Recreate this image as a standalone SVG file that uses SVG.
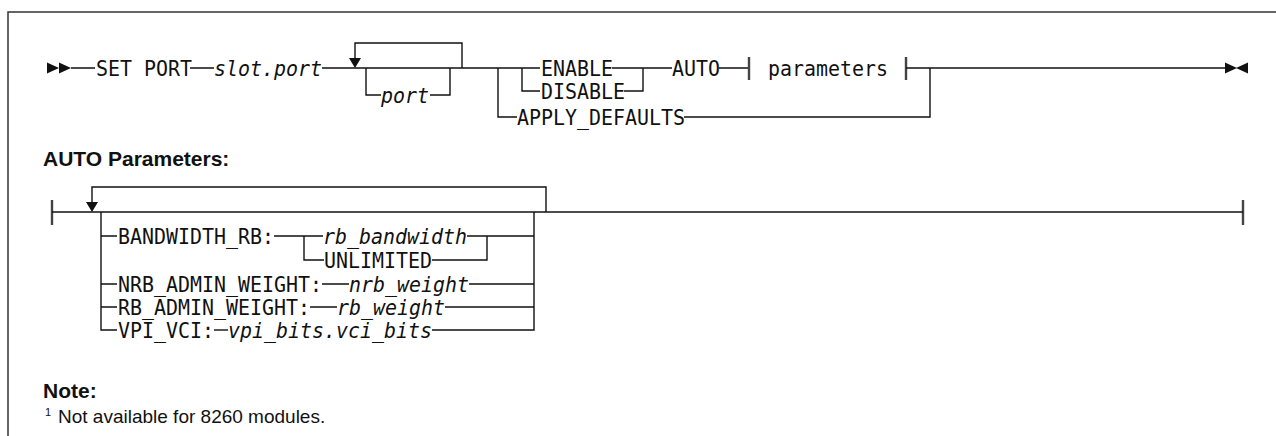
<svg xmlns="http://www.w3.org/2000/svg" width="1276" height="436" viewBox="0 0 1276 436">
<style>
.m{font-family:"DejaVu Sans Mono","Liberation Mono",monospace;font-size:21px;fill:#111}
.i{font-style:italic}
.h{font-family:"Liberation Sans",Arial,sans-serif;font-weight:bold;font-size:21px;fill:#111}
.n{font-family:"Liberation Sans",Arial,sans-serif;font-size:19px;fill:#111}
.s{font-family:"Liberation Sans",Arial,sans-serif;font-size:11px;fill:#111}
.l{fill:none;stroke:#111;stroke-width:1.4}
.t{fill:none;stroke:#444;stroke-width:2.4}
.f{fill:none;stroke:#333;stroke-width:1.5}
.a{fill:#111}
</style>
<path class="f" d="M8,436 V12 H1276"/>
<g id="connectors">
  <polygon class="a" points="47,62.5 59,68 47,73.5"/>
  <polygon class="a" points="59,62.5 71,68 59,73.5"/>
  <path class="l" d="M71,68 H95 M190,68 H214 M322,68 H540"/>
  <path class="l" d="M462,68 V43 H355 V59"/>
  <polygon class="a" points="349,58 361,58 355,68"/>
  <path class="l" d="M366,68 V95 H381 M430,95 H450 V68"/>
  <path class="l" d="M522,68 V91 H540 M612,68 H643 M624,91 H643 V68 M643,68 H672 M719,68 H749"/>
  <path class="l" d="M498,68 V117 H517 M684,117 H930 V68"/>
  <path class="t" d="M749,57 V80 M906,57 V80"/>
  <path class="l" d="M906,68 H1226"/>
  <polygon class="a" points="1225,62.5 1237,68 1225,73.5"/>
  <polygon class="a" points="1248,62.5 1236,68 1248,73.5"/>
  <path class="t" d="M52,200 V225 M1243,200 V225"/>
  <path class="l" d="M52,212 H1243"/>
  <path class="l" d="M546,212 V187 H92 V203"/>
  <polygon class="a" points="86,202 98,202 92,212"/>
  <path class="l" d="M101,212 V330 H117 M534,212 V330 H432"/>
  <path class="l" d="M101,236 H117 M274,236 H323 M304,236 V260 H324 M467,236 H534 M432,260 H487 V236"/>
  <path class="l" d="M101,284 H117 M322,284 H349 M469,284 H534"/>
  <path class="l" d="M101,307 H117 M310,307 H337 M445,307 H534"/>
  <path class="l" d="M214,330 H228"/>
</g>
<g id="start"><text class="m" x="96" y="75.6" textLength="96" lengthAdjust="spacingAndGlyphs">SET PORT</text></g>
<g id="slot"><text class="m i" x="214" y="75.6" textLength="108" lengthAdjust="spacingAndGlyphs">slot.port</text></g>
<g id="port"><text class="m i" x="381" y="102.6" textLength="48" lengthAdjust="spacingAndGlyphs">port</text></g>
<g id="enable"><text class="m" x="541" y="75.6" textLength="72" lengthAdjust="spacingAndGlyphs">ENABLE</text></g>
<g id="disable"><text class="m" x="541" y="98.6" textLength="84" lengthAdjust="spacingAndGlyphs">DISABLE</text></g>
<g id="apply"><text class="m" x="517" y="124.6" textLength="168" lengthAdjust="spacingAndGlyphs">APPLY_DEFAULTS</text></g>
<g id="auto"><text class="m" x="672" y="75.6" textLength="48" lengthAdjust="spacingAndGlyphs">AUTO</text></g>
<g id="parameters"><text class="m" x="768" y="75.6" textLength="120" lengthAdjust="spacingAndGlyphs">parameters</text></g>
<g id="heading"><text class="h" x="43" y="166">AUTO Parameters:</text></g>
<g id="bw"><text class="m" x="118" y="243.6" textLength="156" lengthAdjust="spacingAndGlyphs">BANDWIDTH_RB:</text><text class="m i" x="323" y="243.6" textLength="144" lengthAdjust="spacingAndGlyphs">rb_bandwidth</text><text class="m" x="324" y="267.6" textLength="108" lengthAdjust="spacingAndGlyphs">UNLIMITED</text></g>
<g id="nrb"><text class="m" x="118" y="291.6" textLength="204" lengthAdjust="spacingAndGlyphs">NRB_ADMIN_WEIGHT:</text><text class="m i" x="349" y="291.6" textLength="120" lengthAdjust="spacingAndGlyphs">nrb_weight</text></g>
<g id="rb"><text class="m" x="118" y="314.6" textLength="192" lengthAdjust="spacingAndGlyphs">RB_ADMIN_WEIGHT:</text><text class="m i" x="337" y="314.6" textLength="108" lengthAdjust="spacingAndGlyphs">rb_weight</text></g>
<g id="vpi"><text class="m" x="118" y="337.6" textLength="96" lengthAdjust="spacingAndGlyphs">VPI_VCI:</text><text class="m i" x="228" y="337.6" textLength="204" lengthAdjust="spacingAndGlyphs">vpi_bits.vci_bits</text></g>
<g id="note"><text class="h" x="43" y="398">Note:</text><text class="s" x="45" y="416">1</text><text class="n" x="58" y="423">Not available for 8260 modules.</text></g>
</svg>
